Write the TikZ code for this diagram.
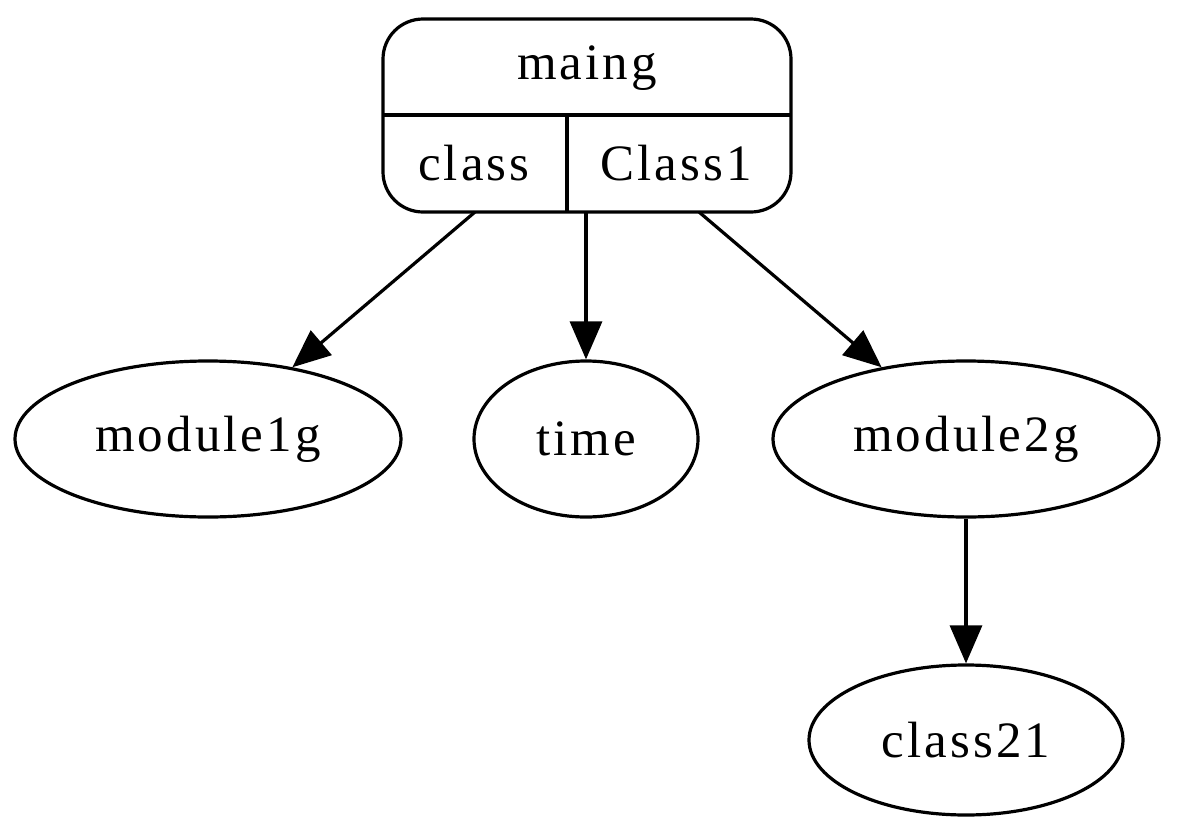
\documentclass[tikz,border=0pt]{standalone}
\usepackage{fontspec}
\setmainfont{Liberation Serif}[LetterSpace=6]
\usetikzlibrary{shapes.geometric,arrows.meta}
\begin{document}
\begin{tikzpicture}[x=1pt,y=-1pt,
  every node/.style={font=\fontsize{51}{56}\selectfont},
  oval/.style={draw,ellipse,line width=3.2pt,inner sep=0pt},
  edge/.style={line width=3.2pt,-{Triangle[length=38pt,width=32pt]}},
  rule/.style={line width=3.2pt}]
\useasboundingbox (0,0) rectangle (1179,833);
% record node with its three fields
\node[draw,rule,rounded corners=40pt,minimum width=408pt,minimum height=193pt,inner sep=0pt] (rec) at (587,115.5) {};
\draw[rule] (383,115) -- (791,115);
\draw[rule] (567,115) -- (567,212);
\node (title) at (587,68) {maing};
\node (fclass) at (474,163) {class};
\node (fClass1) at (676,163) {Class1};
\coordinate (pclass) at (475,212);
\coordinate (pmid) at (586,212);
\coordinate (pClass1) at (699,212);
% ellipses
\node[oval,minimum width=386pt,minimum height=156pt] (m1) at (208,439) {module1g};
\node[oval,minimum width=224pt,minimum height=156pt] (time) at (586,439) {time};
\node[oval,minimum width=386pt,minimum height=156pt] (m2) at (966,439) {module2g};
\node[oval,minimum width=314pt,minimum height=150pt] (c21) at (966,740) {class21};
% edges
\draw[edge] (pclass) -- (m1);
\draw[edge] (pmid) -- (time);
\draw[edge] (pClass1) -- (m2);
\draw[edge] (m2) -- (c21);
\end{tikzpicture}
\end{document}
